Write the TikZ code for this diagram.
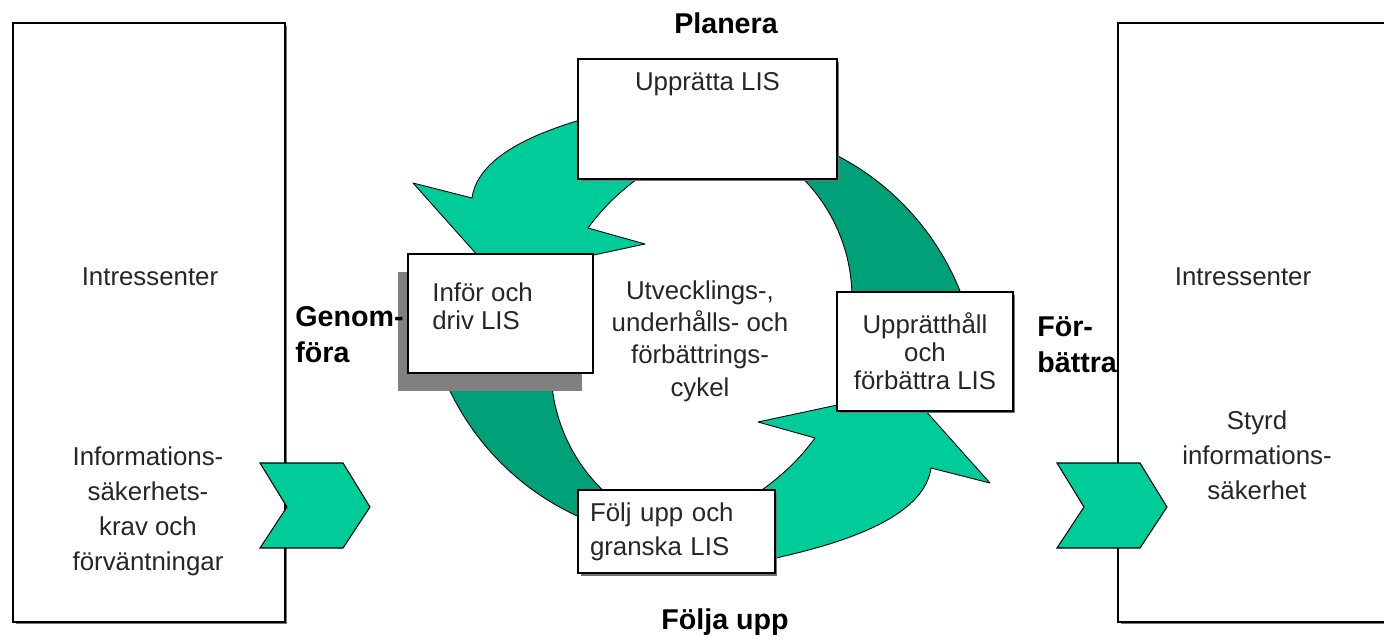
\documentclass[tikz,border=0pt]{standalone}
\usepackage{fontspec}
\setmainfont{Liberation Sans}
\usepackage{xcolor}
\definecolor{cyclelight}{HTML}{00CC99}
\definecolor{cycledark}{HTML}{00A078}
\definecolor{shadowgrey}{HTML}{808080}
\usepackage{tikz}
\usetikzlibrary{shadows}

\begin{document}
\begin{tikzpicture}[x=0.02cm, y=-0.02cm,
  plainbox/.style={rectangle, draw=black, line width=0.9pt, fill=white, inner sep=0pt},
  box/.style={plainbox, drop shadow={shadow xshift=0.05cm, shadow yshift=-0.05cm, fill=black!55, opacity=1}},
  txt/.style={font=\fontsize{14.7}{19.9}\selectfont, align=center, inner sep=0pt, text=black!85},
  phase/.style={font=\fontsize{16.3}{20.5}\selectfont\bfseries, align=left, inner sep=0pt},
  lightarrow/.style={fill=cyclelight, draw=black, line width=0.5pt, line join=round},
  darkband/.style={fill=cycledark, draw=black, line width=0.5pt, line join=round},
  chevron/.style={fill=cyclelight, draw=black, line width=0.6pt}
]
\useasboundingbox (0,0) rectangle (1384,640);

% cycle arrows, second half is the first turned half round
\foreach \turn in {0,180}{
  \begin{scope}[rotate around={\turn:(701.5,333)}]
    \draw[darkband] plot[domain=-72:-8, samples=40, variable=\t] ({716+263*cos(\t)},{389+263*sin(\t)})
      -- plot[domain=12:-55, samples=40, variable=\t] ({682+170*cos(\t)},{298+170*sin(\t)}) -- cycle;
    \draw[lightarrow] (645,104) .. controls (590,116) and (480,140) .. (472,198)
      -- (413,183) -- (496,276) -- (645,244)
      -- (588,228) .. controls (605,205) and (625,185) .. (665,160) -- cycle;
  \end{scope}
}

% stakeholders
\node[box, minimum width=5.44cm, minimum height=11.98cm] (leftbox) at (149,322.5) {};
\node[box, minimum width=5.64cm, minimum height=11.98cm] (rightbox) at (1259,322.5) {};

% phase boxes
\node[box, txt, minimum width=5.18cm, text height=0.62cm, text depth=1.78cm] (planbox) at (707.5,119) {Upprätta LIS};
\node[plainbox, minimum width=3.7cm, minimum height=2.38cm,
  drop shadow={shadow xshift=-0.21cm, shadow yshift=-0.36cm, fill=shadowgrey, opacity=1}] (dobox) at (500.5,313.5) {};
\node[box, txt, font=\fontsize{14.7}{16}\selectfont, minimum width=3.52cm, minimum height=2.38cm] (actbox) at (925,351.5) {Upprätthåll\\och\\förbättra LIS};
\node[box, txt, font=\fontsize{14.7}{19.3}\selectfont, align=left, text width=3.46cm, inner xsep=0.24cm, minimum height=1.66cm] (checkbox) at (676.5,531.5) {Följ upp och\\granska LIS};

% in and out
\foreach \x in {260,1057}
  \draw[chevron] (\x,463) -- ++(83,0) -- ++(27,44) -- ++(-27,41) -- ++(-83,0) -- ++(27,-41) -- cycle;

% texts
\node[txt, font=\fontsize{14.7}{16}\selectfont, align=left, anchor=west] (dotext) at (432,306) {Inför och\\driv LIS};
\node[txt] (lefttop) at (150,277) {Intressenter};
\node[txt] (leftlow) at (148,511) {Informations-\\säkerhets-\\krav och\\förväntningar};
\node[txt] (righttop) at (1243,277) {Intressenter};
\node[txt] (rightlow) at (1257,455) {Styrd\\informations-\\säkerhet};
\node[txt, font=\fontsize{14.7}{18.4}\selectfont] (cycletext) at (700,341) {Utvecklings-,\\underhålls- och\\förbättrings-\\cykel};

\node[phase] (planera) at (726,23) {Planera};
\node[phase, anchor=west] (genom) at (295,335) {Genom-\\föra};
\node[phase, anchor=west] (forb) at (1037,345) {För-\\bättra};
\node[phase] (folja) at (725,622) {Följa upp};
\end{tikzpicture}
\end{document}
